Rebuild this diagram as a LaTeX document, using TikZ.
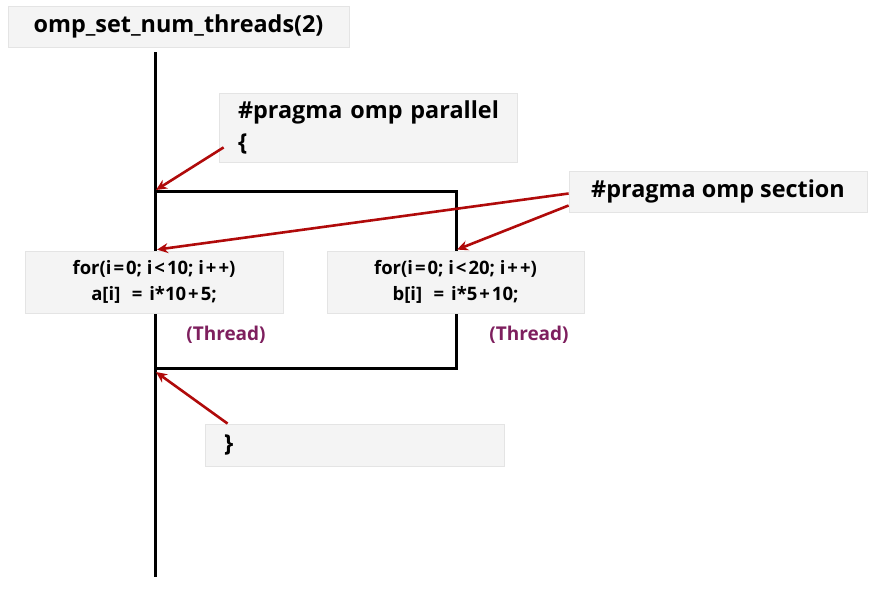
\documentclass[tikz,border=0pt]{standalone}
\usepackage{fontspec}
\setmainfont{Open Sans}
\usetikzlibrary{calc,arrows.meta}
\definecolor{boxfill}{HTML}{F4F4F4}
\definecolor{boxline}{HTML}{E4E4E4}
\definecolor{arrowred}{HTML}{B00A0A}
\definecolor{threadcol}{HTML}{7E1F5E}
\newcommand{\wop}[1]{\kern2pt#1\kern2pt}
\tikzset{
  box/.style={draw=boxline, fill=boxfill, line width=0.8pt, inner sep=0pt},
  flow/.style={line width=3pt, line join=miter, black},
  pointer/.style={draw=arrowred, line width=2.6pt, -{Stealth[length=11pt,width=10pt]}},
  head/.style={font=\fontsize{23.4}{32}\selectfont\bfseries},
  code/.style={font=\fontsize{18.5}{26}\selectfont\bfseries, align=center},
  thread/.style={font=\fontsize{19}{22}\selectfont\bfseries, text=threadcol}
}
\begin{document}
\begin{tikzpicture}[x=1pt,y=-1pt]
\useasboundingbox (0,0) rectangle (876,600);
% flow lines
\coordinate (start) at (155,52);
\coordinate (finish) at (155,577);
\coordinate (fork) at (155,191);
\coordinate (forkR) at (456,191);
\coordinate (join) at (155,368);
\coordinate (joinR) at (456,368);
\draw[flow] (start) -- (finish);
\draw[flow] (fork) -- (forkR) -- (joinR) -- (join);
% boxes
\node[box, head, minimum width=341pt, minimum height=41pt] (setn) at (178.5,26.5) {omp\_set\_num\_threads(2)};
\node[box, head, minimum width=298pt, minimum height=69pt, text width=260pt, align=left, inner xsep=19pt] (par) at (368,127.5) {\mbox{\#pragma omp parallel}\\\{};
\node[box, head, minimum width=298pt, minimum height=41pt] (sec) at (718,191.5) {\#pragma omp section};
\node[box, code, minimum width=258pt, minimum height=62pt] (for1) at (154,282) {for(i\wop{=}0; i\wop{<}10; i\wop{+}+)\\a[i] \ \wop{=}\  i*10\wop{+}5;};
\node[box, code, minimum width=257pt, minimum height=62pt] (for2) at (455.5,282) {for(i\wop{=}0; i\wop{<}20; i\wop{+}+)\\b[i] \ \wop{=}\  i*5\wop{+}10;};
\node[box, head, minimum width=299pt, minimum height=42pt, text width=261pt, align=left, inner xsep=19pt] (close) at (354.5,445) {\}};
\node[thread] (th1) at (226,335) {(Thread)};
\node[thread] (th2) at (529,335) {(Thread)};
% pointers
\coordinate (t1) at (for1.north -| start);
\coordinate (t2) at (for2.north -| forkR);
\draw[pointer] ($(par.south west)+(5,-15)$) -- ($(fork)+(1,-1)$);
\draw[pointer] ($(sec.west)+(0,2)$) -- ($(t1)+(2,-1)$);
\draw[pointer] ($(sec.west)+(0,14)$) -- ($(t2)+(1,-1)$);
\draw[pointer] ($(close.north west)+(23,0)$) -- ($(join)+(1,4)$);
\end{tikzpicture}
\end{document}
